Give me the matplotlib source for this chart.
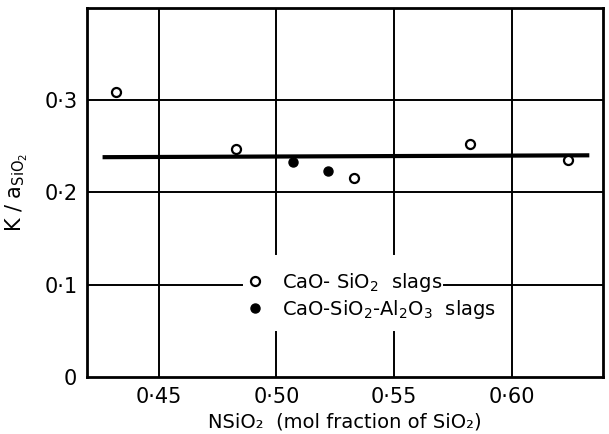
import matplotlib
matplotlib.use("Agg")
import matplotlib.pyplot as plt
from matplotlib.lines import Line2D

# Data
cao_sio2_x = [0.432, 0.483, 0.533, 0.582, 0.624]
cao_sio2_y = [0.309, 0.247, 0.215, 0.252, 0.235]
cao_sio2_al2o3_x = [0.507, 0.522]
cao_sio2_al2o3_y = [0.233, 0.223]
fit_x = [0.427, 0.632]
fit_y = [0.238, 0.240]

x_ticks = [0.45, 0.50, 0.55, 0.60]
x_tick_labels = ["0·45", "0·50", "0·55", "0·60"]
y_ticks = [0.0, 0.1, 0.2, 0.3]
y_tick_labels = ["0", "0·1", "0·2", "0·3"]

legend_labels = ["CaO- SiO$_2$  slags", "CaO-SiO$_2$-Al$_2$O$_3$  slags"]

XMIN, XMAX = 0.4195, 0.6387
YMIN, YMAX = 0.0, 0.3995

plt.rcParams['font.family'] = ['DejaVu Sans']
fig = plt.figure(figsize=(6.09, 4.34), dpi=100)
ax = fig.add_axes([87/609, 57/434, 516/609, 369/434])
ax.set_xlim(XMIN, XMAX)
ax.set_ylim(YMIN, YMAX)

gc = dict(color="black", lw=1.4, zorder=1)
# vertical grid lines (with gaps around the legend for the middle ones)
for xv in x_ticks:
    if xv in (0.50, 0.55):
        ax.plot([xv, xv], [YMIN, 0.049], **gc)
        ax.plot([xv, xv], [0.1335, YMAX], **gc)
    else:
        ax.plot([xv, xv], [YMIN, YMAX], **gc)
for yv in y_ticks[1:]:
    if yv == 0.1:
        ax.plot([XMIN, 0.4853], [yv, yv], **gc)
        ax.plot([0.571, XMAX], [yv, yv], **gc)
    else:
        ax.plot([XMIN, XMAX], [yv, yv], **gc)

ax.plot(fit_x, fit_y, color="black", lw=3.0, zorder=2)
ax.plot(cao_sio2_x, cao_sio2_y, linestyle="none", marker="o", ms=6.5,
        mfc="white", mec="black", mew=1.6, zorder=3)
ax.plot(cao_sio2_al2o3_x, cao_sio2_al2o3_y, linestyle="none", marker="o",
        ms=6.5, mfc="black", mec="black", zorder=3)

for s in ax.spines.values():
    s.set_linewidth(2.0)

ax.set_xticks(x_ticks)
ax.set_xticklabels(x_tick_labels, fontsize=15)
ax.set_yticks(y_ticks)
ax.set_yticklabels(y_tick_labels, fontsize=15)
ax.tick_params(length=0, pad=7)

ax.set_xlabel("NSiO₂  (mol fraction of SiO₂)", fontsize=14, labelpad=4)
ax.set_ylabel("K / a$_{\\mathrm{SiO_2}}$", fontsize=15, labelpad=10)

handles = [
    Line2D([], [], linestyle="none", marker="o", ms=6.5, mfc="white", mec="black", mew=1.6),
    Line2D([], [], linestyle="none", marker="o", ms=6.5, mfc="black", mec="black"),
]
ax.legend(handles, legend_labels, loc="center", bbox_to_anchor=(0.552, 0.2195),
          frameon=False, fontsize=14, handlelength=0.8, handletextpad=1.0,
          labelspacing=0.2, borderpad=0)

fig.savefig("out.png", dpi=100)
